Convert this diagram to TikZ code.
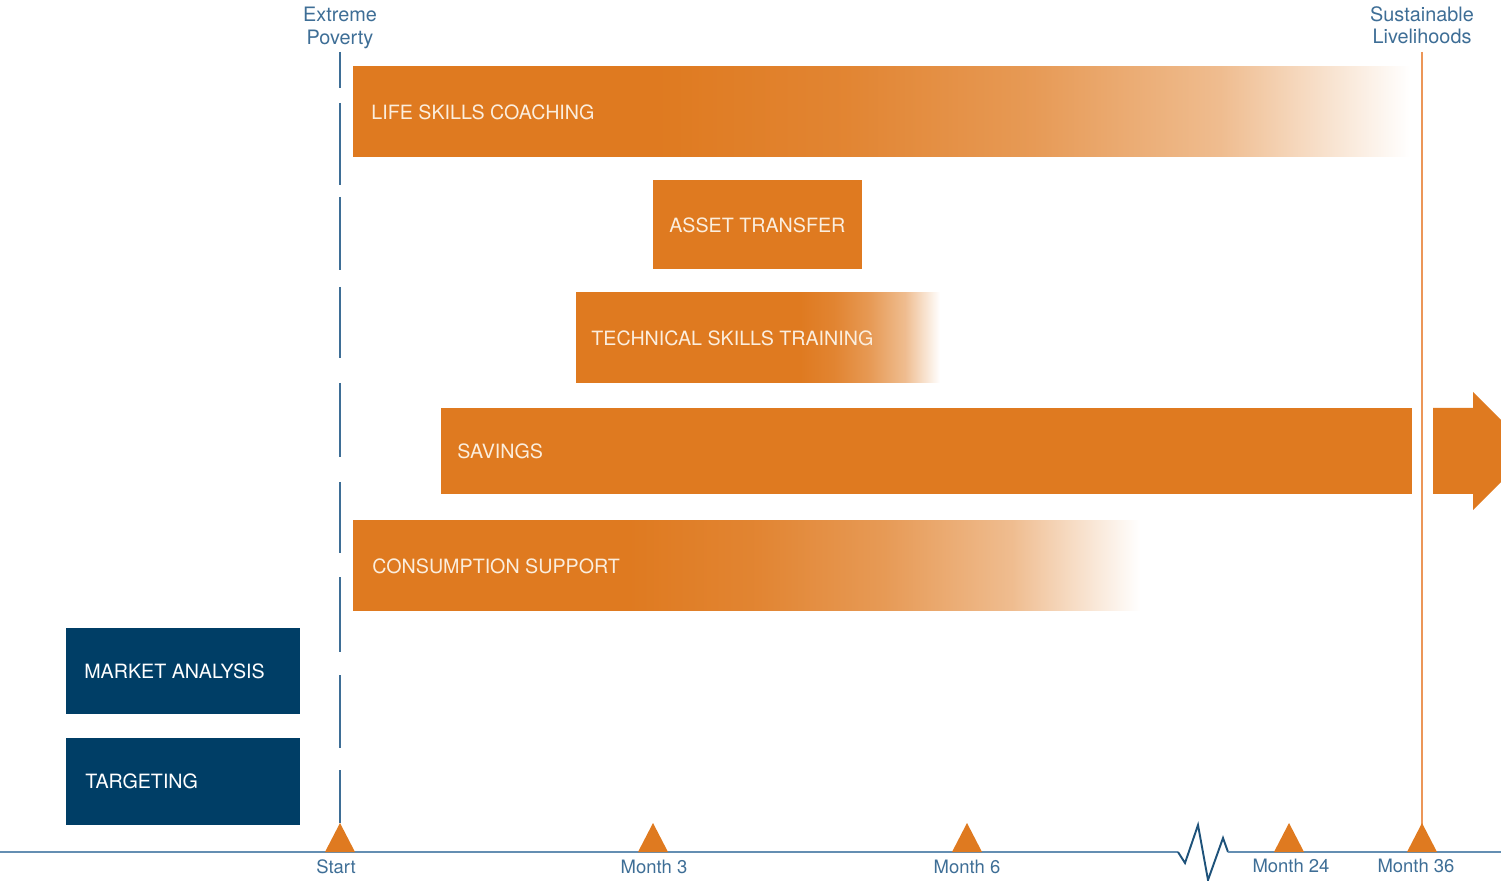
\documentclass[tikz,border=0pt]{standalone}
\usepackage{fontspec}
\setmainfont{TeX Gyre Heros}
\definecolor{barorange}{RGB}{223,122,32}
\definecolor{navy}{RGB}{0,62,102}
\definecolor{axisblue}{RGB}{100,142,178}
\definecolor{zigblue}{RGB}{30,82,122}
\definecolor{labelblue}{RGB}{62,110,150}
\definecolor{cream}{RGB}{251,238,222}
\definecolor{endline}{RGB}{236,150,88}
% fades: solid part, then eased to white at the bar end
\pgfdeclarehorizontalshading{lifefade}{100bp}{color(0bp)=(barorange); color(39.24bp)=(barorange);
  color(48.18bp)=(barorange!92!white); color(57.12bp)=(barorange!76!white);
  color(66.06bp)=(barorange!50!white); color(75bp)=(white); color(100bp)=(white)}
\pgfdeclarehorizontalshading{techfade}{100bp}{color(0bp)=(barorange); color(55.77bp)=(barorange);
  color(60.58bp)=(barorange!92!white); color(65.38bp)=(barorange!76!white);
  color(70.19bp)=(barorange!50!white); color(75bp)=(white); color(100bp)=(white)}
\pgfdeclarehorizontalshading{consfade}{100bp}{color(0bp)=(barorange); color(42.47bp)=(barorange);
  color(50.60bp)=(barorange!92!white); color(58.74bp)=(barorange!76!white);
  color(66.87bp)=(barorange!50!white); color(75bp)=(white); color(100bp)=(white)}

\begin{document}
\begin{tikzpicture}[x=0.02cm,y=-0.02cm,
  bartext/.style={anchor=west,inner sep=0pt,text=cream,font=\fontsize{11.2}{13}\selectfont},
  boxtext/.style={anchor=west,inner sep=0pt,text=white,font=\fontsize{11.2}{13}\selectfont},
  ticklabel/.style={inner sep=0pt,text=labelblue,font=\fontsize{10.5}{12}\selectfont},
  toplabel/.style={inner sep=0pt,align=center,text=labelblue,font=\fontsize{11.3}{12.6}\selectfont}]
\useasboundingbox (0,0) rectangle (1501,881);
\clip (0,0) rectangle (1501,881);

% bars
\shade [shading=lifefade] (353,67) rectangle (1410,157);
\fill [barorange] (653,180) rectangle (862,269);
\shade [shading=techfade] (576,293) rectangle (940,383);
\fill [barorange] (441,408) rectangle (1412,494);
\fill [barorange] (1433,408) -- (1473,408) -- (1473,392) -- (1532,451) -- (1473,510) -- (1473,494) -- (1433,494) -- cycle;
\shade [shading=consfade] (353,521) rectangle (1140,610);
\fill [navy] (66,628) rectangle (300,714);
\fill [navy] (66,738) rectangle (300,825);

\node [bartext] (life) at (371,112) {LIFE SKILLS COACHING};
\node [bartext] (asset) at (669,225) {ASSET TRANSFER};
\node [bartext] (tech) at (591,338) {TECHNICAL SKILLS TRAINING};
\node [bartext] (savings) at (457,451) {SAVINGS};
\node [bartext] (consum) at (372,566) {CONSUMPTION SUPPORT};
\node [boxtext] (market) at (84,671) {MARKET ANALYSIS};
\node [boxtext] (target) at (85,781) {TARGETING};

% time axis
\coordinate (t0) at (340,852); \coordinate (t3) at (653,852); \coordinate (t6) at (967,852);
\coordinate (t24) at (1289,852); \coordinate (t36) at (1422,852);
\coordinate (livtop) at (1422,52);
\draw [color=axisblue,line width=1.1pt] (0,852) -- (1178,852);
\draw [color=zigblue,line width=1.1pt,line join=miter] (1178,852) -- (1185,863) -- (1198,825) -- (1208,880) -- (1223,838) -- (1228,852);
\draw [color=axisblue,line width=1.1pt] (1228,852) -- (1501,852);
\foreach \a/\b in {52/88,103/185,197/270,287/358,383/457,482/553,577/652,675/748,770/823}
  \draw [color=labelblue,line width=1.5pt] (340,\a) -- (340,\b);
\draw [color=endline,line width=1.6pt] (livtop) -- (t36);
\fill [barorange] (t0) ++(-15,0) -- ++(15,-29) -- ++(15,29) -- cycle;
\fill [barorange] (t3) ++(-15,0) -- ++(15,-29) -- ++(15,29) -- cycle;
\fill [barorange] (t6) ++(-15,0) -- ++(15,-29) -- ++(15,29) -- cycle;
\fill [barorange] (t24) ++(-15,0) -- ++(15,-29) -- ++(15,29) -- cycle;
\fill [barorange] (t36) ++(-15,0) -- ++(15,-29) -- ++(15,29) -- cycle;

\node [ticklabel] (start) at (336,867) {Start};
\node [ticklabel] (m3) at (654,867) {Month 3};
\node [ticklabel] (m6) at (967,867) {Month 6};
\node [ticklabel] (m24) at (1291,866) {Month 24};
\node [ticklabel] (m36) at (1416,866) {Month 36};
\node [toplabel] (extreme) at (340,28) {Extreme\\Poverty};
\node [toplabel] (sustain) at (1422,25) {Sustainable\\Livelihoods};
\end{tikzpicture}
\end{document}
